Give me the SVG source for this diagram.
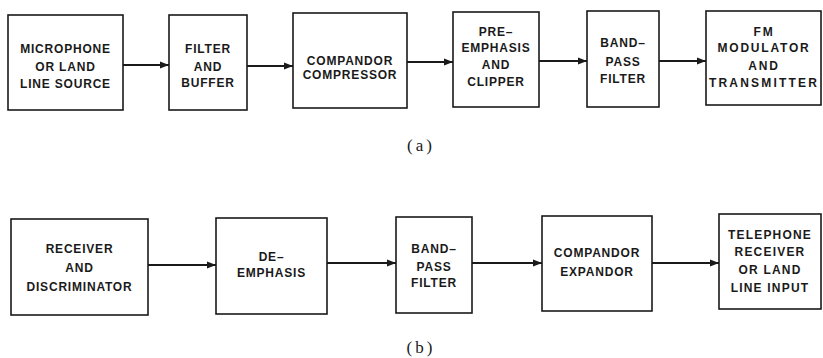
<svg xmlns="http://www.w3.org/2000/svg" width="823" height="358" viewBox="0 0 823 358">
<style>
.box{fill:#fff;stroke:#1a1a1a;stroke-width:1.6}
.t{font-family:"Liberation Sans",Arial,sans-serif;font-weight:bold;font-size:12px;fill:#1a1a1a;text-anchor:middle;dominant-baseline:central;letter-spacing:0.8px}
.w{letter-spacing:1.8px}
.cap{font-family:"Liberation Serif","Times New Roman",serif;font-size:17px;fill:#1a1a1a;text-anchor:middle;dominant-baseline:central;letter-spacing:3px}
.c{stroke:#1a1a1a;stroke-width:2;fill:none;marker-end:url(#ah)}
</style>
<defs>
<marker id="ah" markerUnits="userSpaceOnUse" markerWidth="10" markerHeight="8" refX="9" refY="4" orient="auto">
<path d="M0,0.5 L9,4 L0,7.5 Z" fill="#1a1a1a"/>
</marker>
</defs>
<rect width="823" height="358" fill="#fff"/>
<g id="connectors">
<line class="c" x1="123" y1="65" x2="169" y2="65"/>
<line class="c" x1="247" y1="66" x2="293" y2="66"/>
<line class="c" x1="407" y1="62" x2="453" y2="62"/>
<line class="c" x1="539" y1="61" x2="587" y2="61"/>
<line class="c" x1="659" y1="61" x2="706" y2="61"/>
<line class="c" x1="148" y1="265" x2="216" y2="265"/>
<line class="c" x1="327" y1="263" x2="396" y2="263"/>
<line class="c" x1="472" y1="263" x2="542" y2="263"/>
<line class="c" x1="652" y1="263" x2="719" y2="263"/>
</g>
<g id="a1"><rect class="box" x="8" y="15" width="115" height="95"/>
<text class="t" x="65.5" y="49">MICROPHONE</text><text class="t" x="65.5" y="67">OR LAND</text><text class="t" x="65.5" y="84">LINE SOURCE</text></g>
<g id="a2"><rect class="box" x="169" y="15" width="78" height="95"/>
<text class="t" x="208" y="49">FILTER</text><text class="t" x="208" y="67">AND</text><text class="t" x="208" y="83">BUFFER</text></g>
<g id="a3"><rect class="box" x="293" y="13" width="114" height="95"/>
<text class="t" x="350" y="61">COMPANDOR</text><text class="t" x="350" y="75">COMPRESSOR</text></g>
<g id="a4"><rect class="box" x="453" y="12" width="86" height="95"/>
<text class="t" x="496" y="32">PRE–</text><text class="t" x="496" y="48">EMPHASIS</text><text class="t" x="496" y="65">AND</text><text class="t" x="496" y="82">CLIPPER</text></g>
<g id="a5"><rect class="box" x="587" y="11" width="72" height="96"/>
<text class="t" x="623" y="43">BAND–</text><text class="t" x="623" y="62">PASS</text><text class="t" x="623" y="79">FILTER</text></g>
<g id="a6"><rect class="box" x="706" y="11" width="115" height="94"/>
<text class="t w" x="764" y="32">FM</text><text class="t w" x="764" y="48">MODULATOR</text><text class="t w" x="764" y="66">AND</text><text class="t" x="764" y="83" style="letter-spacing:2.2px">TRANSMITTER</text></g>
<text class="cap" x="421" y="145">(a)</text>
<g id="b1"><rect class="box" x="11" y="219" width="137" height="96"/>
<text class="t" x="79.5" y="249">RECEIVER</text><text class="t" x="79.5" y="268">AND</text><text class="t" x="79.5" y="287">DISCRIMINATOR</text></g>
<g id="b2"><rect class="box" x="216" y="218" width="111" height="96"/>
<text class="t" x="271.5" y="257">DE–</text><text class="t" x="271.5" y="273">EMPHASIS</text></g>
<g id="b3"><rect class="box" x="396" y="217" width="76" height="96"/>
<text class="t" x="434" y="249">BAND–</text><text class="t" x="434" y="267">PASS</text><text class="t" x="434" y="283">FILTER</text></g>
<g id="b4"><rect class="box" x="542" y="216" width="110" height="95"/>
<text class="t" x="597" y="253">COMPANDOR</text><text class="t" x="597" y="272">EXPANDOR</text></g>
<g id="b5"><rect class="box" x="719" y="214" width="102" height="95"/>
<text class="t" x="770" y="235" style="letter-spacing:1.2px">TELEPHONE</text><text class="t" x="770" y="252" style="letter-spacing:1.2px">RECEIVER</text><text class="t" x="770" y="270" style="letter-spacing:1.2px">OR LAND</text><text class="t" x="770" y="288" style="letter-spacing:1.2px">LINE INPUT</text></g>
<text class="cap" x="421" y="347">(b)</text>
</svg>
